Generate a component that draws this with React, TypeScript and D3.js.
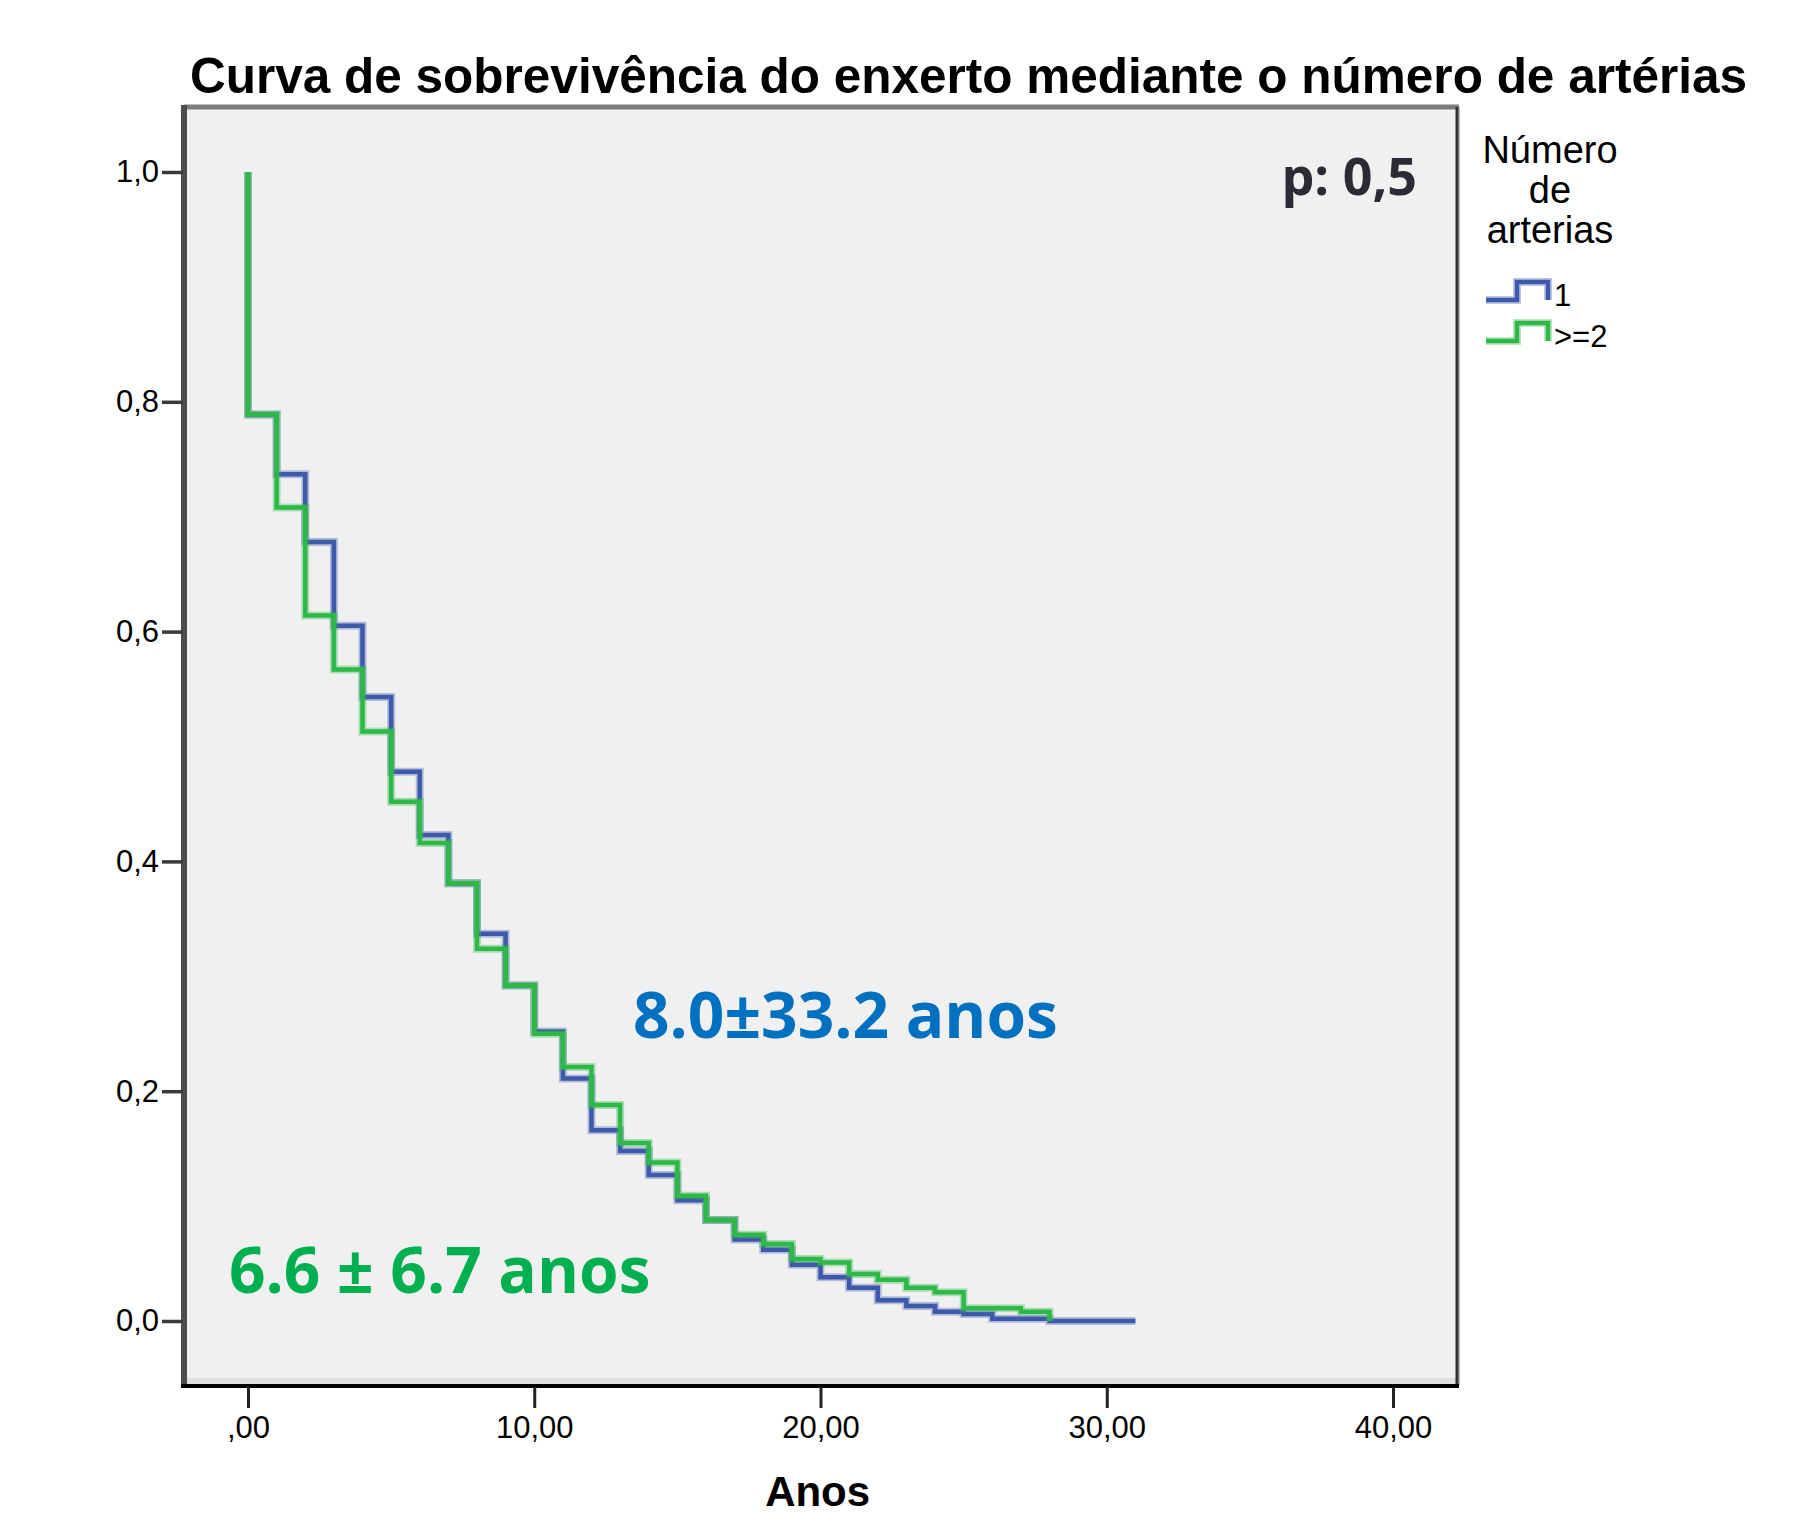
import { useEffect, useRef } from "react";
import * as d3 from "d3";

// Kaplan-Meier steps: time (years) and survival after it
const timesOne = [0, 0, 1, 2, 3, 4, 5, 6, 7, 8, 9, 10, 11, 12, 13, 14, 15, 16, 17, 18, 19, 20, 21, 22, 23, 24, 25, 26, 28, 31];
const survOne = [1, 0.789, 0.737, 0.678, 0.605, 0.543, 0.478, 0.423, 0.381, 0.337, 0.292, 0.252, 0.211, 0.166, 0.148, 0.127, 0.105, 0.088, 0.071, 0.062, 0.049, 0.038, 0.029, 0.018, 0.013, 0.008, 0.006, 0.002, 0, 0];

const timesTwo = [0, 0, 1, 2, 3, 4, 5, 6, 7, 8, 9, 10, 11, 12, 13, 14, 15, 16, 17, 18, 19, 20, 21, 22, 23, 24, 25, 27, 28];
const survTwo = [1, 0.789, 0.708, 0.614, 0.567, 0.513, 0.452, 0.416, 0.381, 0.324, 0.292, 0.25, 0.221, 0.188, 0.155, 0.138, 0.109, 0.088, 0.075, 0.067, 0.054, 0.051, 0.041, 0.036, 0.029, 0.025, 0.011, 0.008, 0];

const xTicks = [0, 10, 20, 30, 40];
const yTicks = [0, 0.2, 0.4, 0.6, 0.8, 1.0];
const groups = ["1", ">=2"];
const groupColors = ["#3e58ac", "#2eb848"];

const W = 1813, H = 1518;
const FONT = "'Liberation Sans', Arial, sans-serif";

export default function App() {
  const ref = useRef<SVGSVGElement>(null);

  useEffect(() => {
    if (!ref.current) return;
    const svg = d3.select(ref.current);
    svg.selectAll("*").remove();

    const x = d3.scaleLinear().domain([0, 40]).range([248, 1393]);
    const y = d3.scaleLinear().domain([0, 1]).range([1321, 172]);
    const left = 184, right = 1457, top = 107, bottom = 1385;

    // plot area
    svg.append("rect").attr("x", left).attr("y", top)
      .attr("width", right - left).attr("height", bottom - top).attr("fill", "#f0f0f0");
    svg.append("rect").attr("x", left).attr("y", bottom - 7)
      .attr("width", right - left).attr("height", 7).attr("fill", "#e0e0e0");

    // curves
    const series = [
      { t: timesOne, s: survOne },
      { t: timesTwo, s: survTwo },
    ];
    const line = d3.line<[number, number]>()
      .x(d => x(d[0])).y(d => y(d[1])).curve(d3.curveStepAfter);
    series.forEach((ser, i) => {
      const pts = ser.t.map((t, j) => [t, ser.s[j]] as [number, number]);
      svg.append("path").attr("d", line(pts)!).attr("fill", "none")
        .attr("stroke", groupColors[i]).attr("stroke-opacity", 0.35).attr("stroke-width", 8);
      svg.append("path").attr("d", line(pts)!).attr("fill", "none")
        .attr("stroke", groupColors[i]).attr("stroke-width", 4.5);
    });

    // frame
    svg.append("line").attr("x1", left).attr("x2", right + 2).attr("y1", top).attr("y2", top)
      .attr("stroke", "#7b7b7b").attr("stroke-width", 5);
    svg.append("line").attr("x1", right + 2).attr("x2", right + 2).attr("y1", top).attr("y2", bottom)
      .attr("stroke", "#bdbdbd").attr("stroke-width", 2);
    svg.append("line").attr("x1", right).attr("x2", right).attr("y1", top).attr("y2", bottom)
      .attr("stroke", "#333").attr("stroke-width", 3);
    svg.append("line").attr("x1", left).attr("x2", left).attr("y1", top - 2).attr("y2", bottom + 2)
      .attr("stroke", "#4d4d4d").attr("stroke-width", 6);
    svg.append("line").attr("x1", left - 3).attr("x2", right + 2).attr("y1", bottom + 1).attr("y2", bottom + 1)
      .attr("stroke", "#000").attr("stroke-width", 4);

    // axes
    const yAxis = d3.axisLeft(y).tickValues(yTicks).tickSize(21).tickPadding(3)
      .tickFormat(d => d3.format(".1f")(d as number).replace(".", ","));
    const gy = svg.append("g").attr("transform", `translate(${left - 1},0)`).call(yAxis);
    gy.select(".domain").remove();
    gy.selectAll(".tick line").attr("stroke", "#3a3a3a").attr("stroke-width", 3.5);
    gy.selectAll(".tick text").attr("font-family", FONT).attr("font-size", 31).attr("fill", "#000");

    const xAxis = d3.axisBottom(x).tickValues(xTicks).tickSize(21).tickPadding(8)
      .tickFormat(d => (d === 0 ? ",00" : `${d},00`));
    const gx = svg.append("g").attr("transform", `translate(0,${bottom + 2})`).call(xAxis);
    gx.select(".domain").remove();
    gx.selectAll(".tick line").attr("stroke", "#222").attr("stroke-width", 3);
    gx.selectAll(".tick text").attr("font-family", FONT).attr("font-size", 31).attr("fill", "#000");

    // titles
    svg.append("text").attr("x", 190).attr("y", 93).attr("font-family", FONT)
      .attr("font-size", 49.5).attr("font-weight", "bold").attr("fill", "#000")
      .text("Curva de sobrevivência do enxerto mediante o número de artérias");
    svg.append("text").attr("x", x(19.9)).attr("y", 1506).attr("text-anchor", "middle")
      .attr("font-family", FONT).attr("font-size", 42).attr("font-weight", "bold").attr("fill", "#000")
      .text("Anos");

    // annotations
    const ANN = "'Open Sans', 'Noto Sans', sans-serif";
    svg.append("text").attr("x", 1417).attr("y", 195).attr("text-anchor", "end")
      .attr("font-family", ANN).attr("font-size", 52).attr("font-weight", "bold").attr("fill", "#2b2b36")
      .text("p: 0,5");
    svg.append("text").attr("x", 633).attr("y", 1038)
      .attr("font-family", ANN).attr("font-size", 64).attr("font-weight", "bold").attr("fill", "#0070c0")
      .text("8.0±33.2 anos");
    svg.append("text").attr("x", 229).attr("y", 1293)
      .attr("font-family", ANN).attr("font-size", 64).attr("font-weight", "bold").attr("fill", "#00b050")
      .text("6.6 ± 6.7 anos");

    // legend
    const lg = svg.append("g").attr("font-family", FONT).attr("fill", "#000");
    ["Número", "de", "arterias"].forEach((t, i) => {
      lg.append("text").attr("x", 1550).attr("y", 163 + i * 40).attr("text-anchor", "middle")
        .attr("font-size", 38).text(t);
    });
    groups.forEach((g, i) => {
      const yl = 300 + i * 41, yh = yl - 18;
      const sym = `M1486,${yl}H1517V${yh}H1548V${yl}`;
      lg.append("path").attr("d", sym).attr("fill", "none").attr("stroke", groupColors[i])
        .attr("stroke-opacity", 0.35).attr("stroke-width", 8);
      lg.append("path").attr("d", sym).attr("fill", "none").attr("stroke", groupColors[i])
        .attr("stroke-width", 4.5);
      lg.append("text").attr("x", 1554).attr("y", yl + 6).attr("font-size", 31).text(g);
    });
  }, []);

  return (
    <div style={{ position: "fixed", left: 0, top: 0, width: W, height: H, background: "#fff" }}>
      <svg ref={ref} width={W} height={H} style={{ display: "block", overflow: "hidden" }} />
    </div>
  );
}
